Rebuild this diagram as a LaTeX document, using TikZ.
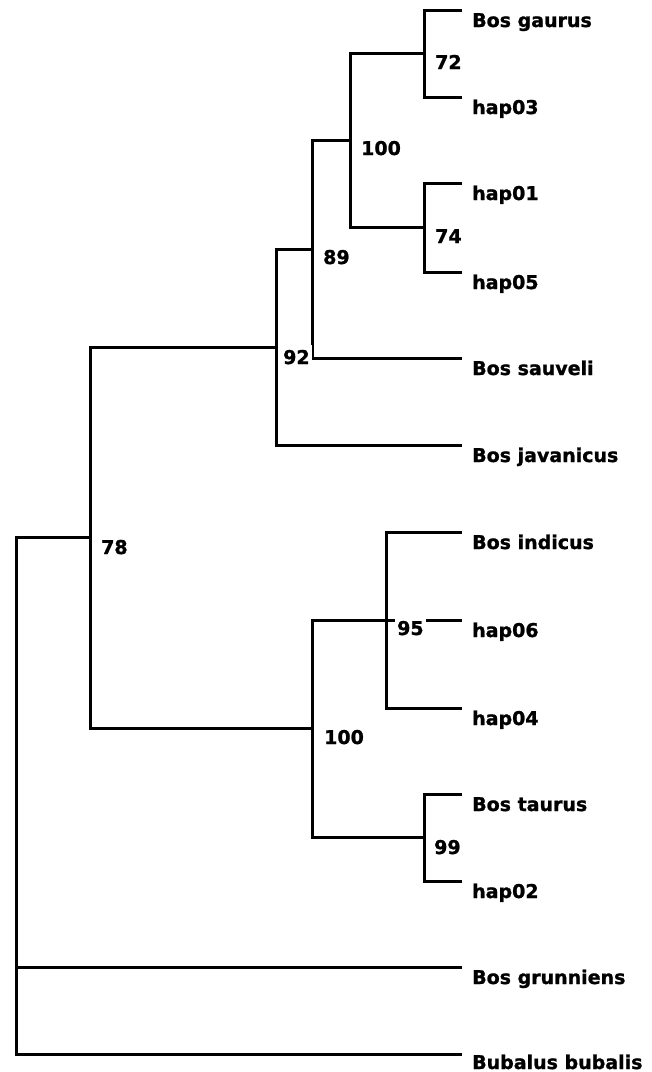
\documentclass[tikz,border=0pt]{standalone}
\usepackage{fontspec}
\setmainfont{DejaVu Sans}
\newfontfamily\heavyface[FakeBold=1.2]{DejaVu Sans Bold}
\begin{document}
\begin{tikzpicture}[x=1pt,y=-1pt,
  branch/.style={line width=3pt, line join=miter, line cap=butt},
  taxon/.style={anchor=base west, inner sep=0pt,
    font=\heavyface\fontsize{19pt}{22pt}\selectfont},
  support/.style={anchor=base west, fill=white, inner xsep=2pt, inner ysep=4.5pt,
    font=\heavyface\fontsize{19pt}{22pt}\selectfont}]
\useasboundingbox[fill=white] (0,0) rectangle (652,1072);

% tip ends of the branches
\coordinate (gaurusE)    at (462,10);
\coordinate (hap03E)     at (462,97);
\coordinate (hap01E)     at (462,183);
\coordinate (hap05E)     at (462,272);
\coordinate (sauveliE)   at (462,358);
\coordinate (javanicusE) at (462,445);
\coordinate (indicusE)   at (462,532);
\coordinate (hap06E)     at (462,620);
\coordinate (hap04E)     at (462,708);
\coordinate (taurusE)    at (462,794);
\coordinate (hap02E)     at (462,881);
\coordinate (grunniensE) at (462,967);
\coordinate (bubalisE)   at (462,1054);

% internal nodes
\coordinate (n72)   at (424,53.5);
\coordinate (n74)   at (424,227.5);
\coordinate (n100a) at (350,140.5);
\coordinate (n89)   at (312,249);
\coordinate (n92)   at (276,347);
\coordinate (n95)   at (386,620);
\coordinate (n99)   at (424,837.5);
\coordinate (n100b) at (312,728);
\coordinate (n78)   at (90,537);
\coordinate (root)  at (16,537);

% taxon names
\node[taxon] (tgaurus)    at (472,27)   {Bos gaurus};
\node[taxon] (thap03)     at (472,114)  {hap03};
\node[taxon] (thap01)     at (472,200)  {hap01};
\node[taxon] (thap05)     at (472,289)  {hap05};
\node[taxon] (tsauveli)   at (472,375)  {Bos sauveli};
\node[taxon] (tjavanicus) at (472,462)  {Bos javanicus};
\node[taxon] (tindicus)   at (472,549)  {Bos indicus};
\node[taxon] (thap06)     at (472,637)  {hap06};
\node[taxon] (thap04)     at (472,725)  {hap04};
\node[taxon] (ttaurus)    at (472,811)  {Bos taurus};
\node[taxon] (thap02)     at (472,898)  {hap02};
\node[taxon] (tgrunniens) at (472,984)  {Bos grunniens};
\node[taxon] (tbubalis)   at (472,1069) {Bubalus bubalis};

% branches
\draw[branch] (gaurusE) -| (n72) |- (hap03E);
\draw[branch] (hap01E) -| (n74) |- (hap05E);
\draw[branch] (n72) -| (n100a) |- (n74);
\draw[branch] (n100a) -| (n89) |- (sauveliE);
\draw[branch] (n89) -| (n92) |- (javanicusE);
\draw[branch] (indicusE) -| (n95) |- (hap04E);
\draw[branch] (n95) -- (hap06E);
\draw[branch] (taurusE) -| (n99) |- (hap02E);
\draw[branch] (n95) -| (n100b) |- (n99);
\draw[branch] (n92) -| (n78) |- (n100b);
\draw[branch] (n78) -| (root) |- (bubalisE);
\draw[branch] (root |- grunniensE) -- (grunniensE);

% bootstrap support values
\node[support] (s72)   at (433,69)  {72};
\node[support] (s100a) at (359,155) {100};
\node[support] (s74)   at (433,243) {74};
\node[support] (s89)   at (321,264) {89};
\node[support] (s92)   at (281,364) {92};
\node[support] (s78)   at (99,554)  {78};
\node[support] (s100b) at (322,744) {100};
\node[support] (s95)   at (395,635) {95};
\node[support] (s99)   at (432,854) {99};
\end{tikzpicture}
\end{document}
